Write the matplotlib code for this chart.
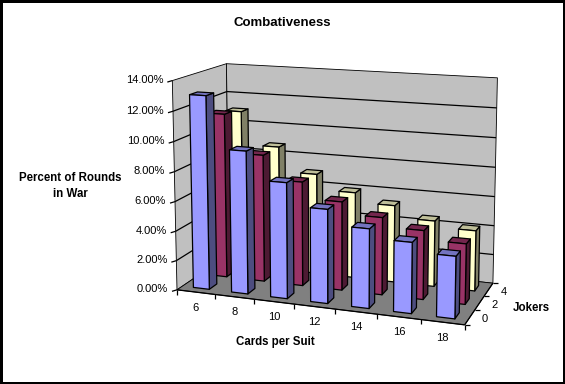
import numpy as np
import matplotlib
matplotlib.use("Agg")
import matplotlib.pyplot as plt
from matplotlib.patches import Polygon, Rectangle

plt.rcParams["font.family"] = ["Liberation Sans", "DejaVu Sans"]

# ── DATA ──────────────────────────────────────────────────────────────
cards = ["6", "8", "10", "12", "14", "16", "18"]
jokers = ["0", "2", "4"]
pct_ticks = [0, 2, 4, 6, 8, 10, 12, 14]
jokers_0 = [13.0, 9.55, 7.7, 6.2, 5.2, 4.6, 4.0]
jokers_2 = [11.3, 8.7, 7.1, 6.0, 5.2, 4.6, 4.0]
jokers_4 = [11.0, 8.7, 7.0, 5.95, 5.3, 4.5, 4.1]
series = [jokers_0, jokers_2, jokers_4]

FRONT = ["#9999FF", "#993366", "#FFFFCC"]
SIDE = ["#4D4D80", "#4D1A33", "#808066"]
TOP = ["#7373BF", "#73264D", "#BFBF99"]
WALL = "#C0C0C0"
FLOOR = "#808080"
BAR_W = 0.42
BAR_D = 0.42

# ── PROJECTION: fit camera from chart box corners (depth, cat, pct -> px) ──
nx, nz, ymax = len(cards), len(jokers), pct_ticks[-1]
calib = [
    ((0, 0, 0), (178, 288)),
    ((0, 0, 14), (171, 81)),
    ((0, 0, 6), (175, 202)),
    ((7, 0, 0), (465, 326)),
    ((0, 3, 0), (228, 256)),
    ((0, 3, 14), (228, 63)),
    ((7, 3, 0), (493, 282)),
    ((7, 3, 14), (497, 78)),
]
A, b = [], []
for (x, z, y), (u, v) in calib:
    A.append([x, z, y, 1, 0, 0, 0, 0, -u * x, -u * z, -u * y])
    A.append([0, 0, 0, 0, x, z, y, 1, -v * x, -v * z, -v * y])
    b += [u, v]
m = np.linalg.lstsq(np.array(A, float), np.array(b, float), rcond=None)[0]
P = np.append(m, 1).reshape(3, 4)


def proj(x, z, y):
    r = P @ np.array([x, z, y, 1.0])
    return r[0] / r[2], r[1] / r[2]


fig = plt.figure(figsize=(5.65, 3.84), dpi=100, facecolor="white")
ax = fig.add_axes([0, 0, 1, 1])
ax.set_xlim(0, 565)
ax.set_ylim(384, 0)
ax.axis("off")


def face(pts, color, lw=1.0, z=3):
    ax.add_patch(Polygon([proj(*p) for p in pts], closed=True, facecolor=color,
                         edgecolor="black", lw=lw, joinstyle="round", zorder=z))


def line(xs, ys, lw=1.0, z=2):
    ax.plot(xs, ys, color="black", lw=lw, solid_capstyle="butt", zorder=z)


def seg(p, q, lw=1.0, z=2):
    a, c = proj(*p), proj(*q)
    line([a[0], c[0]], [a[1], c[1]], lw, z)


# walls and floor
face([(0, 0, 0), (0, 3, 0), (0, 3, ymax), (0, 0, ymax)], WALL, 0.6, 1)
face([(0, 3, 0), (nx, 3, 0), (nx, 3, ymax), (0, 3, ymax)], WALL, 0.6, 1)
face([(0, 0, 0), (nx, 0, 0), (nx, 3, 0), (0, 3, 0)], FLOOR, 0.6, 1)

# gridlines sit behind the bars
for t in pct_ticks[1:-1]:
    seg((0, 0, t), (0, 3, t), 0.9)
    seg((0, 3, t), (nx, 3, t), 0.9)

# bars, back row first
for j in reversed(range(nz)):
    for i in reversed(range(nx)):
        v = series[j][i]
        x0, x1 = i + 0.5 - BAR_W / 2, i + 0.5 + BAR_W / 2
        z0, z1 = j + 0.5 - BAR_D / 2, j + 0.5 + BAR_D / 2
        face([(x1, z0, 0), (x1, z1, 0), (x1, z1, v), (x1, z0, v)], SIDE[j], 0.9)
        face([(x0, z0, v), (x1, z0, v), (x1, z1, v), (x0, z1, v)], TOP[j], 0.9)
        face([(x0, z0, 0), (x1, z0, 0), (x1, z0, v), (x0, z0, v)], FRONT[j], 0.9)

# axis ticks and labels
for t in pct_ticks:
    u, w = proj(0, 0, t)
    line([u - 5, u], [w + 1.5, w], 0.9)
    ax.text(u - 9, w - 0.5, f"{t:.2f}%", ha="right", va="center", fontsize=8)
seg((0, 0, 0), (nx, 0, 0), 0.9)
for i in range(nx + 1):
    u, w = proj(i, 0, 0)
    line([u, u], [w, w + 5], 0.9)
for i, lab in enumerate(cards):
    u, w = proj(i + 0.5, 0, 0)
    ax.text(u, w + 15.5, lab, ha="center", va="center", fontsize=8)
seg((nx, 0, 0), (nx, 3, 0), 0.9)
for j in range(nz + 1):
    u, w = proj(nx, j, 0)
    line([u, u + 5], [w, w], 0.9)
for j, lab in enumerate(jokers):
    u, w = proj(nx, j + 0.5, 0)
    ax.text(u + 15, w + 2, lab, ha="center", va="center", fontsize=8)

ax.text(282, 23, "Combativeness", ha="center", va="center", fontsize=9.5, fontweight="bold")
ax.text(70, 186, "Percent of Rounds\nin War", ha="center", va="center", fontsize=8.3,
        fontweight="bold", linespacing=1.4)
ax.text(275, 342, "Cards per Suit", ha="center", va="center", fontsize=8.3, fontweight="bold")
ax.text(531, 308, "Jokers", ha="center", va="center", fontsize=8.3, fontweight="bold")

# chart frame
ax.add_patch(Rectangle((0.5, 0.5), 564, 383, facecolor="none", edgecolor="black",
                       lw=1.5, antialiased=False, zorder=5))

fig.savefig("out.png", dpi=100)
